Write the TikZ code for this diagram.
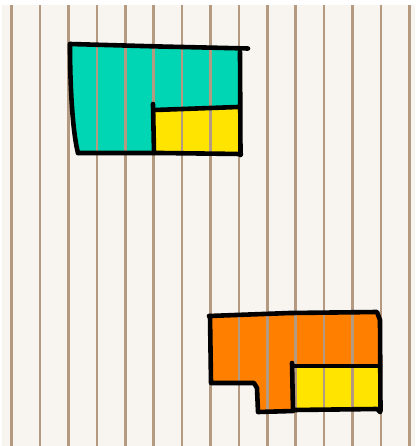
\documentclass[tikz,border=0pt]{standalone}
\usetikzlibrary{calc,backgrounds}
\definecolor{PaperBg}{HTML}{F8F4F0}
\definecolor{RuleBrown}{HTML}{B39A80}
\definecolor{FillTeal}{HTML}{00D6B4}
\definecolor{FillYellow}{HTML}{FFE400}
\definecolor{FillOrange}{HTML}{FF7F00}
\definecolor{InkBlack}{HTML}{000000}
\tikzset{
  paper/.style     = {fill=PaperBg, draw=none},
  ruleline/.style  = {draw=RuleBrown, line width=2.6pt},
  sketch/.style    = {draw=InkBlack, line width=4.6pt, line cap=round,
                      line join=round},
  tealfill/.style  = {fill=FillTeal, draw=none},
  yellowfill/.style= {fill=FillYellow, draw=none},
  orangefill/.style= {fill=FillOrange, draw=none},
}
\def\RuleX{11.7}
\def\RuleGap{28.4}

\begin{document}
\begin{tikzpicture}[x=1pt, y=-1pt]

\useasboundingbox (0,0) rectangle (417,446);
\fill[white] (0,0) rectangle (417,446);
\fill[paper] (2,5) rectangle (415,446);

% =========================================================================
% Fills
% =========================================================================
% teal block with yellow corner
\fill[tealfill]   (71,46) -- (240,49) -- (240,153) -- (78,153)
   .. controls (74,138) and (70,100) .. (71,46) -- cycle;
\fill[yellowfill] (154,109) -- (240,107) -- (240,153) -- (154,153) -- cycle;

% orange block with yellow corner
\fill[orangefill] (211,317) -- (377,312) -- (380,320) -- (380,365)
   -- (293,365) -- (293,411) -- (258,411) -- (257,384) -- (211,383) -- cycle;
\fill[yellowfill] (293,366) -- (380,366) -- (380,410) -- (293,410) -- cycle;

% =========================================================================
% Vertical rules
% =========================================================================
\foreach \k in {0,...,14}
  \draw[ruleline] (\RuleX + \k*\RuleGap, 5) -- (\RuleX + \k*\RuleGap, 446);

% =========================================================================
% Outlines
% =========================================================================
% teal block
\draw[sketch] (70,44) -- (160,46.5) -- (248,48.5);
\draw[sketch] (240,52) -- (240.5,155);
\draw[sketch] (241,154) -- (160,153) -- (78,153);
\draw[sketch] (78,153) .. controls (74,138) and (70,100) .. (70,44);
\draw[sketch] (153,104) -- (154,153);
\draw[sketch] (155,110) -- (238,107);

% orange block
\draw[sketch] (209,316) -- (290,313) -- (377,312) -- (380,320) -- (380.5,411);
\draw[sketch] (210,316) -- (211,383) -- (254,383) -- (257,388)
   -- (258,412) -- (293,411);
\draw[sketch] (292,363) -- (293,410);
\draw[sketch] (293,366) -- (380,366);
\draw[sketch] (293,410) -- (377,409) -- (380,412);

\end{tikzpicture}
\end{document}
